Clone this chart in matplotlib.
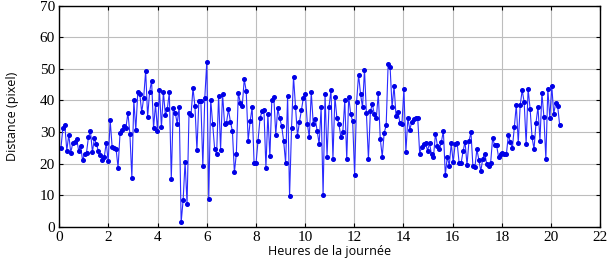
"""Distance per time of day (MATLAB-style line plot)."""
import numpy as np
import matplotlib

matplotlib.use("Agg")
import matplotlib.pyplot as plt

plt.rcParams["font.family"] = "serif"
plt.rcParams["font.serif"] = ["Liberation Serif", "Times New Roman",
                              "DejaVu Serif"]

dist_a = [24.8, 31.2, 32.2, 24.1, 29.2, 23.5, 26.4, 26.7, 27.9, 24.1,
          25.7, 21.0, 23.1, 23.5, 28.5, 30.3, 23.6, 28.1, 26.2, 24.0,
          22.6, 21.1, 22.1, 26.6, 20.7, 33.7, 25.2, 25.0, 24.6, 18.7,
          29.6, 30.5, 31.9, 31.4, 36.1, 29.4, 15.6, 40.1, 30.6, 42.7,
          42.2, 36.2, 40.9, 49.4, 34.8, 42.7, 46.3, 31.2, 38.9, 30.4,
          43.3]
dist_b = [31.5, 42.7, 35.4, 37.4, 42.6, 15.2, 37.6, 36.1, 32.7, 38.0,
          1.4, 8.4, 20.6, 7.2, 36.1, 35.3, 43.9, 38.2, 24.2, 39.9,
          39.7, 19.1, 40.9, 52.2, 8.9, 40.3]
dist_c = [32.5, 24.6, 23.1, 41.5, 24.4, 42.2, 32.7, 33.0, 37.2, 33.2,
          30.4, 17.2, 23.1, 42.4, 39.3, 38.4, 46.7, 43.0, 27.3, 33.4,
          37.8, 20.2, 20.2, 27.3, 34.3, 36.6, 36.9, 18.7, 35.7, 22.3,
          40.3, 41.2, 29.1, 37.5, 34.3, 31.9, 27.1, 20.2, 41.4, 9.7,
          31.3, 47.5, 38.0, 28.8, 33.2, 36.9, 40.9, 42.2, 32.7, 28.3,
          42.6, 32.7, 34.2, 30.4, 26.2, 37.8, 10.2, 41.9, 22.2, 38.0,
          43.3, 21.6, 41.2, 34.5, 32.7, 28.5, 29.9, 40.0, 21.4, 41.2,
          35.7, 33.4]
dist_d = [16.4, 39.6, 48.2, 42.0, 37.8, 49.8, 35.9, 21.4, 36.7, 38.8,
          35.6, 34.3, 42.3, 27.9, 22.2, 29.8, 32.1, 51.7, 50.5, 37.8,
          44.6, 35.1, 36.3, 32.8, 32.7, 43.5, 23.7, 34.4, 30.8, 33.3,
          34.1, 34.3, 34.4, 23.2, 25.3, 26.1, 26.4, 24.1, 26.5, 22.9,
          22.2, 29.5, 25.7, 24.5, 26.8, 30.4, 16.4, 22.2, 19.4, 26.4,
          20.4, 26.2, 26.6, 20.2, 20.1, 23.9, 27.0, 19.6, 27.1, 30.0,
          19.2, 18.8, 24.5, 21.3, 17.6, 21.6, 23.2, 19.9, 19.3, 20.3,
          28.2, 25.8, 25.8, 22.2, 23.1, 23.4, 23.1, 23.1, 29.2, 26.7]
dist_e = [24.8, 31.5, 38.6, 26.6, 38.6, 43.3, 39.4, 26.2, 43.7, 37.4,
          28.3, 24.6, 32.9, 38.0, 27.3, 42.4, 34.9, 21.4, 43.6, 34.4,
          44.6, 35.7, 39.3, 38.2, 32.2]

distance = np.array(dist_a + dist_b + dist_c + dist_d + dist_e)

# regular sampling between first and last measurement (hours)
t_first, t_last = 0.07, 20.35
hours = np.linspace(t_first, t_last, len(distance))

x_ticks = list(range(0, 23, 2))
y_ticks = list(range(0, 71, 10))

fig = plt.figure(figsize=(6.1, 2.61), dpi=100)
ax = fig.add_axes([0.097, 0.131, 0.887, 0.847])

ax.plot(hours, distance, color="#2a2aff", linewidth=0.8,
        marker="o", markersize=2.6, markerfacecolor="#0000e6",
        markeredgecolor="#0000e6")

ax.set_xlim(0, 22)
ax.set_ylim(0, 70)
ax.set_xticks(x_ticks)
ax.set_yticks(y_ticks)
ax.grid(True, color="#bdbdbd", linewidth=0.8)
ax.set_axisbelow(True)
ax.tick_params(direction="in", length=3, top=True, right=True,
               labelsize=11, pad=3)
for sp in ax.spines.values():
    sp.set_linewidth(1.0)

ax.set_xlabel("Heures de la journée", family="Open Sans", fontsize=9,
              labelpad=1)
ax.set_ylabel("Distance (pixel)", family="Open Sans", fontsize=9,
              labelpad=15)

fig.savefig("out.png", dpi=100)
plt.close(fig)
